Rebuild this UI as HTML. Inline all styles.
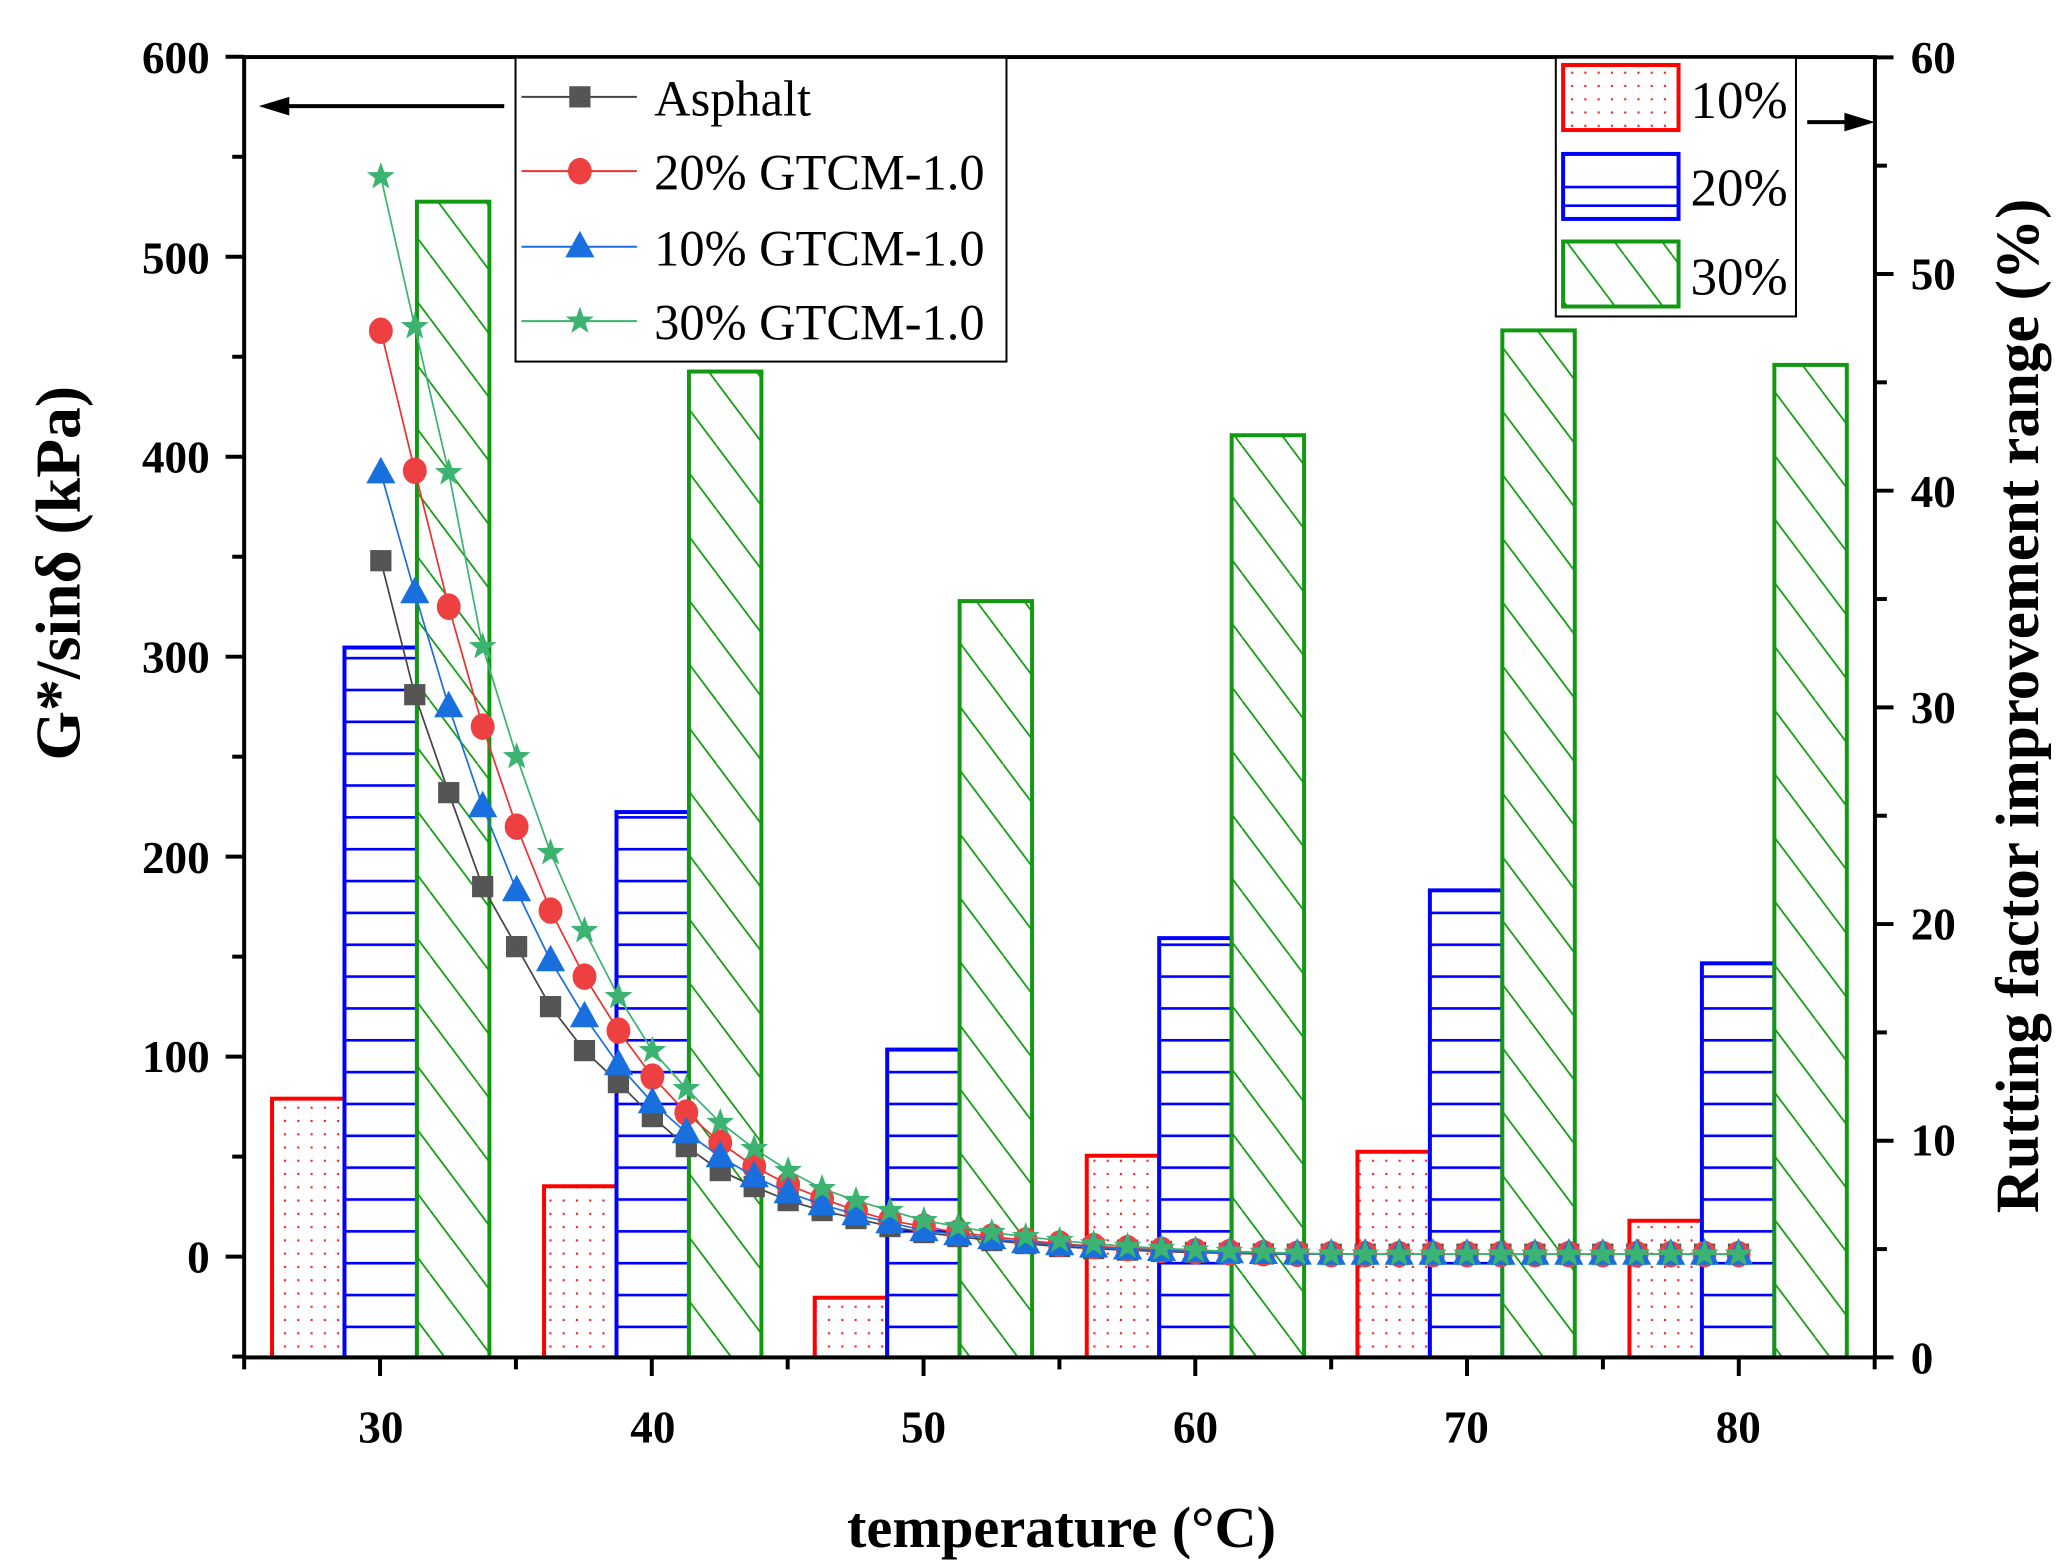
<!DOCTYPE html>
<html><head><meta charset="utf-8">
<style>
html,body{margin:0;padding:0;background:#fff;}
svg{display:block;}
text{font-family:"Liberation Serif",serif;}
</style></head>
<body>
<svg id="s" width="2070" height="1568" viewBox="0 0 1560 1181.7" xmlns="http://www.w3.org/2000/svg">
<defs>
<pattern id="dots" width="10" height="10" patternUnits="userSpaceOnUse">
<rect x="4" y="4" width="1.6" height="1.6" fill="#ff2020"/>
</pattern>
<pattern id="hl" width="20" height="24" patternUnits="userSpaceOnUse" y="1023">
<rect x="0" y="0" width="20" height="2" fill="#0000ff"/>
</pattern>
<pattern id="dg" width="36" height="48" patternUnits="userSpaceOnUse">
<line x1="0" y1="0" x2="36" y2="48" stroke="#119911" stroke-width="1.3"/>
<line x1="-36" y1="0" x2="0" y2="48" stroke="#119911" stroke-width="1.3"/>
<line x1="36" y1="0" x2="72" y2="48" stroke="#119911" stroke-width="1.3"/>
</pattern>
</defs>
<g id="bars"></g>
<g id="series"></g>
<g stroke="#000" stroke-width="3" fill="none">
<rect x="184" y="43" width="1229" height="980"/>
</g>
<g id="ticks" stroke="#000" stroke-width="3"></g>
<g font-size="34" font-weight="bold" text-anchor="end" fill="#000">
<text x="158" y="55">600</text>
<text x="158" y="206">500</text>
<text x="158" y="356">400</text>
<text x="158" y="507">300</text>
<text x="158" y="658">200</text>
<text x="158" y="808">100</text>
<text x="158" y="959">0</text>
</g>
<g font-size="34" font-weight="bold" text-anchor="start" fill="#000">
<text x="1440" y="55">60</text>
<text x="1440" y="218">50</text>
<text x="1440" y="382">40</text>
<text x="1440" y="545">30</text>
<text x="1440" y="708">20</text>
<text x="1440" y="871">10</text>
<text x="1440" y="1035">0</text>
</g>
<g font-size="34" font-weight="bold" text-anchor="middle" fill="#000">
<text x="287" y="1087">30</text>
<text x="492" y="1087">40</text>
<text x="696" y="1087">50</text>
<text x="901" y="1087">60</text>
<text x="1105" y="1087">70</text>
<text x="1310" y="1087">80</text>
</g>
<text x="800" y="1166" font-size="44" font-weight="bold" text-anchor="middle">temperature (°C)</text>
<text transform="translate(60,432) rotate(-90)" font-size="48" font-weight="bold" text-anchor="middle">G*/sinδ (kPa)</text>
<text transform="translate(1536,532) rotate(-90)" font-size="46" font-weight="bold" text-anchor="middle">Rutting factor improvement range (%)</text>
<line x1="380" y1="80" x2="210" y2="80" stroke="#000" stroke-width="3"/>
<polygon points="195,80 218,73 218,87" fill="#000"/>
<line x1="1362" y1="92" x2="1400" y2="92" stroke="#000" stroke-width="3"/>
<polygon points="1413,92 1390,85 1390,99" fill="#000"/>
<rect x="388.5" y="43.5" width="370" height="229" fill="#fff" stroke="#000" stroke-width="1.5"/>
<g id="leg"></g>
<g font-size="38" fill="#000">
<text x="493" y="87">Asphalt</text>
<text x="493" y="143">20% GTCM-1.0</text>
<text x="493" y="200">10% GTCM-1.0</text>
<text x="493" y="256">30% GTCM-1.0</text>
</g>
<rect x="1172.5" y="43.5" width="181" height="195" fill="#fff" stroke="#000" stroke-width="1.5"/>
<rect x="1178" y="49" width="87" height="49" fill="url(#dots)" stroke="#ff0000" stroke-width="3"/>
<rect x="1178" y="116" width="87" height="49" fill="#fff" stroke="#0000ff" stroke-width="3"/>
<line x1="1178" y1="141" x2="1265" y2="141" stroke="#0000ff" stroke-width="2"/>
<line x1="1178" y1="155" x2="1265" y2="155" stroke="#0000ff" stroke-width="2"/>
<rect x="1178" y="182" width="87" height="49" fill="url(#dg)" stroke="#119911" stroke-width="3"/>
<g font-size="40" fill="#000">
<text x="1274" y="89">10%</text>
<text x="1274" y="155">20%</text>
<text x="1274" y="222">30%</text>
</g>
</svg>
<script>
var NS="http://www.w3.org/2000/svg";
function el(p,t,a){var e=document.createElementNS(NS,t);for(var k in a)e.setAttribute(k,a[k]);p.appendChild(e);return e;}
var bars=document.getElementById('bars');
var xs=[287,492,696,901,1105,1310];
var tops=[[828,488,152],[894,612,280],[978,791,453],[871,707,328],[868,671,249],[920,726,275]];
var fills=['url(#dots)','url(#hl)','url(#dg)'],strokes=['#ff0000','#0000ff','#119911'];
xs.forEach(function(x,i){for(var j=0;j<3;j++){var x0=x-82+j*54.6;
el(bars,'rect',{x:x0,y:tops[i][j],width:54.6,height:1023-tops[i][j],fill:'#fff'});
el(bars,'rect',{x:x0,y:tops[i][j],width:54.6,height:1023-tops[i][j],fill:fills[j],stroke:strokes[j],'stroke-width':3});}});
var tk=document.getElementById('ticks');
for(var v=25;v<=85;v+=5){var x=184+(v-25)*20.48;var maj=(v%10==0);el(tk,'line',{x1:x,y1:1023,x2:x,y2:1023+(maj?14:9)});}
for(var v=-50;v<=600;v+=50){var y=947-v*1.507;var maj=(v%100==0);el(tk,'line',{x1:184,y1:y,x2:184-(maj?14:9),y2:y});}
for(var v=0;v<=60;v+=5){var y=1023-v*16.33;var maj=(v%10==0);el(tk,'line',{x1:1413,y1:y,x2:1413+(maj?14:9),y2:y});}
function ext(a){var r=a.slice();while(r.length<41){var l=r[r.length-1];r.push(Math.max(l*0.8,1.2));}return r;}
var S=[
{c:'#555555',l:'#444',m:'sq',d:ext([348,281,232,185,155,125,103,87,70,55,43,35,28,23,19,15,12,10,8,6.5,5])},
{c:'#ee4040',l:'#ee3030',m:'ci',d:ext([463,393,325,265,215,173,140,113,90,72,57,45,36,29,23,18,15,12,10,8,6.5])},
{c:'#1a6fdf',l:'#1a6fdf',m:'tr',d:ext([392,332,275,225,183,148,120,96,77,62,50,40,32,26,21,17,13,11,9,7,6])},
{c:'#3cb371',l:'#3cb371',m:'st',d:ext([540,465,392,305,250,202,163,130,103,84,67,54,43,34,28,23,18,15,12,10,8])}];
var g=document.getElementById('series');
function mk(p,t,x,y,c){
if(t=='sq')el(p,'rect',{x:x-8,y:y-8,width:16,height:16,fill:c});
else if(t=='ci')el(p,'ellipse',{cx:x,cy:y,rx:9,ry:10,fill:c});
else if(t=='tr')el(p,'polygon',{points:(x)+','+(y-12)+' '+(x-11)+','+(y+8)+' '+(x+11)+','+(y+8),fill:c});
else{var pts=[];for(var i=0;i<10;i++){var r=i%2?4.5:11,a=-Math.PI/2+i*Math.PI/5;pts.push((x+r*Math.cos(a)).toFixed(1)+','+(y+r*Math.sin(a)).toFixed(1));}el(p,'polygon',{points:pts.join(' '),fill:c});}}
S.forEach(function(s){var pts=s.d.map(function(v,i){return [287+i*25.58,947-v*1.507];});
el(g,'polyline',{points:pts.map(function(p){return p.join(',')}).join(' '),fill:'none',stroke:s.l,'stroke-width':1.3});
pts.forEach(function(p){mk(g,s.m,p[0],p[1],s.c);});});
var lg=document.getElementById('leg');
var ly=[73,129,186,242];
[0,1,2,3].forEach(function(k,i){el(lg,'line',{x1:393,y1:ly[i],x2:480,y2:ly[i],stroke:S[k].l,'stroke-width':1.5});mk(lg,S[k].m,437,ly[i],S[k].c);});
</script>
</body></html>
